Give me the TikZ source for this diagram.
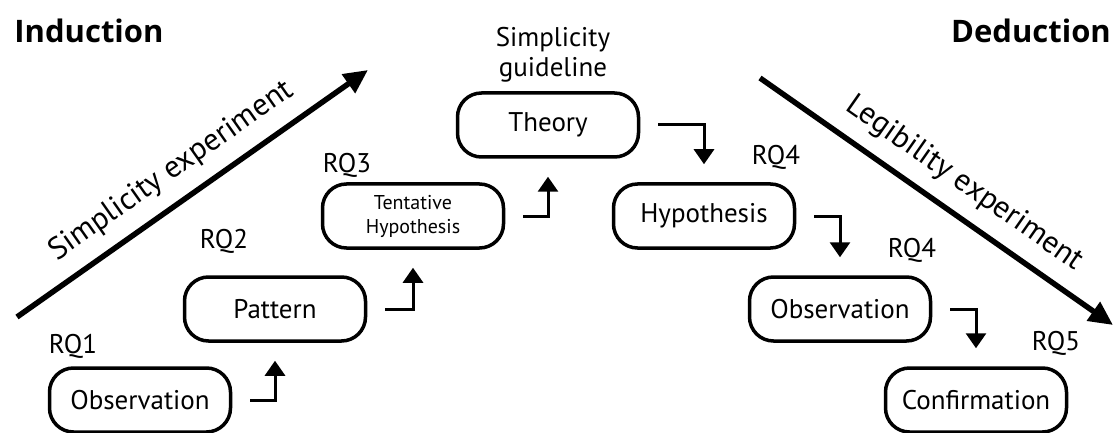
\documentclass[tikz,border=0pt]{standalone}
\usepackage{fontspec}
\setmainfont{PT Sans}
\newfontfamily\headfont{Open Sans}
\usetikzlibrary{arrows.meta, positioning}

\begin{document}
\begin{tikzpicture}[x=1pt, y=-1pt,
    box/.style={draw, line width=3.5pt, rounded corners=24pt, minimum width=181pt, minimum height=64pt, font=\fontsize{27}{30}\selectfont},
    rq/.style={anchor=base, font=\fontsize{27}{30}\selectfont},
    heading/.style={anchor=base, font=\headfont\fontsize{31}{34}\selectfont\bfseries},
    flow/.style={line width=3pt, -{Triangle[length=15pt, width=20pt]}},
    trend/.style={line width=5.5pt, -{Triangle[length=24pt, width=22pt]}},
    trendlabel/.style={sloped, above=10pt, font=\fontsize{31}{34}\selectfont}]
    \useasboundingbox (0,0) rectangle (1117,433);

    % Left: induction
    \node[heading] (ind) at (89,43) {Induction};
    \coordinate (simS) at (17,317);
    \coordinate (simE) at (368,70);
    \draw[trend] (simS) -- (simE) node[trendlabel, pos=0.49] (simlab) {Simplicity experiment};

    \node[box] (obsL) at (140,400) {Observation};
    \node[box] (pattern) at (275,309) {Pattern};
    \node[box, font=\fontsize{20}{24}\selectfont, align=center] (tent) at (413,216) {Tentative\\Hypothesis};
    \node[box] (theory) at (548,125) {Theory};

    \node[rq] (rq1) at (73,353) {RQ1};
    \node[rq] (rq2) at (224,248) {RQ2};
    \node[rq] (rq3) at (347,173) {RQ3};
    \node[font=\fontsize{27}{30}\selectfont, align=center] (guide) at (553,55) {Simplicity\\guideline};

    \foreach \a/\b in {obsL/pattern, pattern/tent, tent/theory} {
        \draw[flow] ([xshift=18pt]\a.east) -| ([yshift=-18pt]\b.south);
    }

    % Right: deduction
    \node[heading] (ded) at (1031,43) {Deduction};
    \coordinate (legS) at (760,78);
    \coordinate (legE) at (1113,325);
    \draw[trend] (legS) -- (legE) node[trendlabel, pos=0.53] (leglab) {Legibility experiment};

    \node[box] (hyp) at (704,216) {Hypothesis};
    \node[box] (obsR) at (840,309) {Observation};
    \node[box] (conf) at (976,400) {Confirmation};

    \node[rq] (rq4a) at (776,165) {RQ4};
    \node[rq] (rq4b) at (912,257) {RQ4};
    \node[rq] (rq5) at (1056,350) {RQ5};

    \foreach \a/\b in {theory/hyp, hyp/obsR, obsR/conf} {
        \draw[flow] ([xshift=18pt]\a.east) -| ([yshift=18pt]\b.north);
    }
\end{tikzpicture}
\end{document}
